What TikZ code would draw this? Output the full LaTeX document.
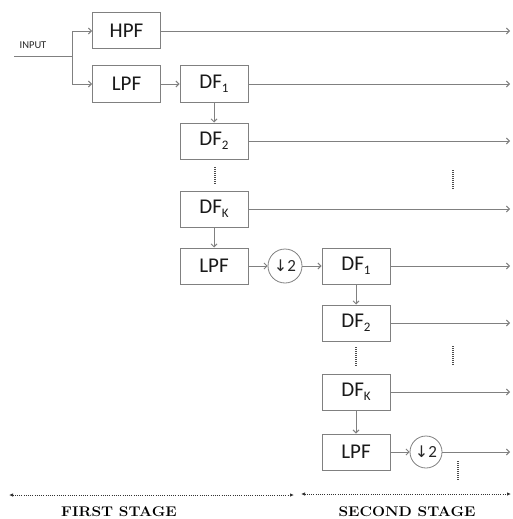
\documentclass[tikz,border=0pt]{standalone}
\usepackage{fontspec}
\newfontfamily\boxfont{Carlito}
\newfontfamily\symfont{DejaVu Sans}
\usetikzlibrary{arrows.meta}
\newcommand{\subs}[1]{\raisebox{-0.35ex}{\fontsize{13}{13}\selectfont #1}}
\begin{document}
\begin{tikzpicture}[x=1pt,y=-1pt,
  line width=0.8pt,
  >={Straight Barb[length=3pt,width=6pt]},
  blk/.style={draw=black!50, line width=1pt, minimum width=68pt, minimum height=36pt, inner sep=0pt, font=\boxfont\fontsize{21}{21}\selectfont, text=black!90},
  dec/.style={draw=black!50, line width=0.8pt, circle, minimum size=34pt, inner sep=0pt, font=\boxfont\fontsize{17}{17}\selectfont, text=black!85},
  wire/.style={draw=black!50, line width=0.9pt},
  vdots/.style={draw=black!70, line width=1.2pt, dash pattern=on 1pt off 1pt},
  stage/.style={draw=black!80, line width=0.9pt, dash pattern=on 1pt off 1.2pt, {Latex[length=4pt,width=3.5pt]}-{Latex[length=4pt,width=3.5pt]}},
  lab/.style={font=\fontsize{14}{14}\selectfont\rmfamily\bfseries, xscale=1.1}
]
\useasboundingbox (0,0) rectangle (512,519);
% nodes
\node[blk] (hpf) at (126.5,31) {HPF};
\node[blk] (lpfa) at (126.5,84) {LPF};
\node[blk] (dfa1) at (214,84) {DF\subs{1}};
\node[blk] (dfa2) at (214,141) {DF\subs{2}};
\node[blk] (dfak) at (214,209) {DF\subs{K}};
\node[blk] (lpfb) at (214,266) {LPF};
\node[dec] (dca) at (285,266) {{\symfont\fontsize{16}{16}\selectfont ↓}2};
\node[blk] (dfb1) at (356,266) {DF\subs{1}};
\node[blk] (dfb2) at (356,323) {DF\subs{2}};
\node[blk] (dfbk) at (356,392) {DF\subs{K}};
\node[blk] (lpfc) at (356,452) {LPF};
\node[dec, minimum size=32pt] (dcb) at (426,452) {{\symfont\fontsize{16}{16}\selectfont ↓}2};
\node[font=\boxfont\fontsize{10.5}{10.5}\selectfont, text=black!85] (inp) at (33,45) {INPUT};
% coordinates
\coordinate (in0) at (14,56);
\coordinate (br) at (72,56);
\coordinate (o1) at (510,31);
\coordinate (o2) at (510,84);
\coordinate (o3) at (510,141);
\coordinate (o4) at (510,209);
\coordinate (o5) at (510,266);
\coordinate (o6) at (510,323);
\coordinate (o7) at (510,392);
\coordinate (o8) at (510,452);
% input branching
\draw[wire] (in0) -- (br);
\draw[wire,->] (br) |- (hpf.west);
\draw[wire,->] (br) |- (lpfa.west);
% chain
\draw[wire,->] (lpfa) -- (dfa1);
\draw[wire,->] (dfa1) -- (dfa2);
\draw[wire,->] (dfak) -- (lpfb);
\draw[wire,->] (lpfb) -- (dca);
\draw[wire,->] (dca) -- (dfb1);
\draw[wire,->] (dfb1) -- (dfb2);
\draw[wire,->] (dfbk) -- (lpfc);
\draw[wire,->] (lpfc) -- (dcb);
% outputs
\draw[wire,->] (hpf.east) -- (o1);
\draw[wire,->] (dfa1.east) -- (o2);
\draw[wire,->] (dfa2.east) -- (o3);
\draw[wire,->] (dfak.east) -- (o4);
\draw[wire,->] (dfb1.east) -- (o5);
\draw[wire,->] (dfb2.east) -- (o6);
\draw[wire,->] (dfbk.east) -- (o7);
\draw[wire,->] (dcb.east) -- (o8);
% vertical dots
\coordinate (d1a) at (215,167); \coordinate (d1b) at (215,185);
\coordinate (d2a) at (453,170); \coordinate (d2b) at (453,190);
\coordinate (d3a) at (356,347); \coordinate (d3b) at (356,366);
\coordinate (d4a) at (453,346); \coordinate (d4b) at (453,366);
\coordinate (d5a) at (458,461); \coordinate (d5b) at (458,481);
\draw[vdots] (d1a) -- (d1b);
\draw[vdots] (d2a) -- (d2b);
\draw[vdots] (d3a) -- (d3b);
\draw[vdots] (d4a) -- (d4b);
\draw[vdots] (d5a) -- (d5b);
% stages
\coordinate (s1a) at (9,495); \coordinate (s1b) at (294,495);
\coordinate (s2a) at (301,494); \coordinate (s2b) at (511,494);
\draw[stage] (s1a) -- (s1b);
\draw[stage] (s2a) -- (s2b);
\node[lab] (l1) at (119,512) {FIRST STAGE};
\node[lab] (l2) at (407,512) {SECOND STAGE};
\end{tikzpicture}
\end{document}
